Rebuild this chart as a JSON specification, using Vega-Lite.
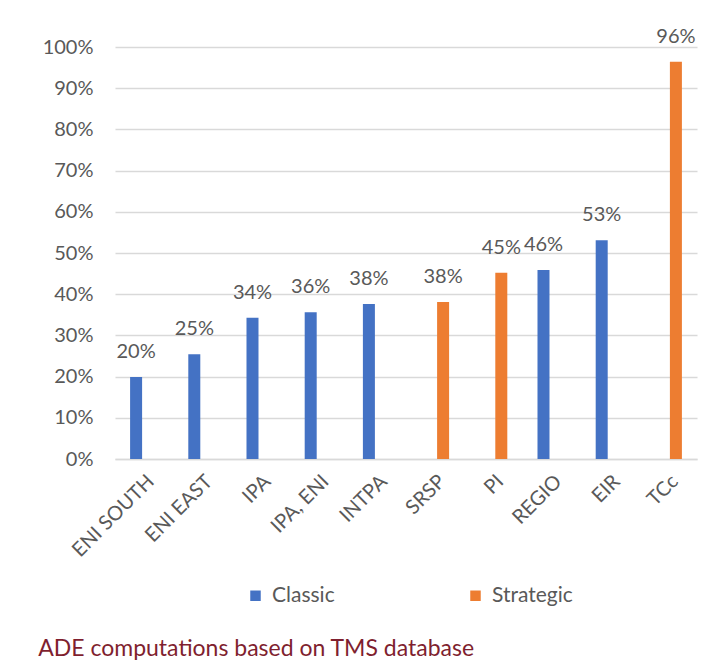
{
  "$schema": "https://vega.github.io/schema/vega-lite/v6.json",
  "autosize": "none",
  "width": 582,
  "height": 412,
  "padding": {"left": 115, "top": 47, "right": 10, "bottom": 207},
  "background": "white",
  "config": {
    "view": {"stroke": null},
    "font": "Lato",
    "axis": {"labelFont": "Lato", "labelColor": "#595959", "labelFontSize": 20}
  },
  "title": {
    "text": "ADE computations based on TMS database",
    "orient": "bottom",
    "anchor": "start",
    "dx": -4,
    "offset": 32,
    "font": "Lato",
    "fontSize": 23,
    "fontWeight": "normal",
    "color": "#7F1F2F"
  },
  "data": {
    "values": [
      {"programme": "ENI SOUTH", "type": "Classic", "share": 0.199},
      {"programme": "ENI EAST", "type": "Classic", "share": 0.254},
      {"programme": "IPA", "type": "Classic", "share": 0.343},
      {"programme": "IPA, ENI", "type": "Classic", "share": 0.356},
      {"programme": "INTPA", "type": "Classic", "share": 0.376},
      {"programme": "SRSP", "type": "Strategic", "share": 0.381},
      {"programme": "PI", "type": "Strategic", "share": 0.452},
      {"programme": "REGIO", "type": "Classic", "share": 0.459},
      {"programme": "EIR", "type": "Classic", "share": 0.531},
      {"programme": "TCc", "type": "Strategic", "share": 0.964}
    ]
  },
  "encoding": {
    "x": {
      "field": "programme",
      "type": "nominal",
      "sort": null,
      "scale": {"paddingInner": 0.45, "paddingOuter": 0.225},
      "axis": {
        "title": null,
        "labelAngle": -45,
        "labelPadding": 12,
        "ticks": false,
        "domainColor": "#D9D9D9",
        "domainWidth": 1.5,
        "grid": false
      }
    },
    "xOffset": {
      "field": "type",
      "type": "nominal",
      "scale": {"domain": ["Classic", "Strategic"], "paddingInner": 0.25, "paddingOuter": 0.125}
    },
    "y": {
      "field": "share",
      "type": "quantitative",
      "scale": {"domain": [0, 1]},
      "axis": {
        "title": null,
        "format": ".0%",
        "values": [0, 0.1, 0.2, 0.3, 0.4, 0.5, 0.6, 0.7, 0.8, 0.9, 1],
        "domain": false,
        "ticks": false,
        "labelPadding": 22,
        "gridColor": "#D9D9D9",
        "gridWidth": 1.5
      }
    }
  },
  "layer": [
    {
      "mark": {"type": "bar"},
      "encoding": {
        "color": {
          "field": "type",
          "type": "nominal",
          "scale": {"domain": ["Classic", "Strategic"], "range": ["#4472C4", "#ED7D31"]},
          "legend": {
            "title": null,
            "orient": "none",
            "legendX": 130,
            "legendY": 538,
            "padding": 0,
            "direction": "horizontal",
            "symbolType": "square",
            "symbolSize": 110,
            "symbolStrokeWidth": 0,
            "labelFont": "Lato",
            "labelFontSize": 21,
            "labelColor": "#595959",
            "labelOffset": 6,
            "columnPadding": 130
          }
        }
      }
    },
    {
      "mark": {"type": "text", "baseline": "middle", "dy": -25, "fontSize": 20, "color": "#595959", "font": "Lato"},
      "encoding": {
        "text": {"field": "share", "type": "quantitative", "format": ".0%"}
      }
    }
  ]
}
